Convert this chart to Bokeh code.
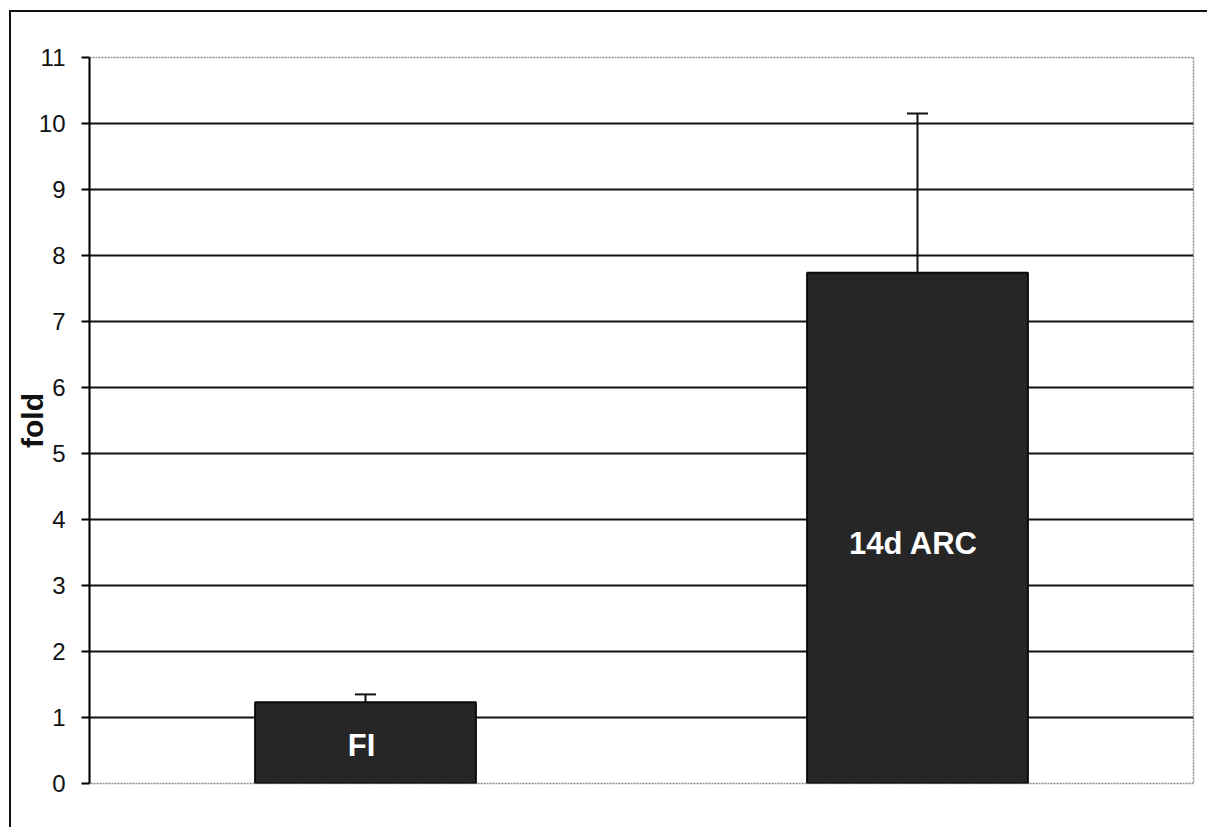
from bokeh.plotting import figure
from bokeh.models import ColumnDataSource, Range1d, FactorRange, FixedTicker, Whisker, TeeHead
from bokeh.core.properties import value
from bokeh.embed import file_html
from bokeh.resources import INLINE

categories = ["FI", "14d ARC"]
fold_mean = [1.23, 7.74]
fold_lower = [1.11, 5.24]
fold_upper = [1.35, 10.15]
y_ticks = [0, 1, 2, 3, 4, 5, 6, 7, 8, 9, 10, 11]

src = ColumnDataSource(dict(
    cat=categories,
    mean=fold_mean,
    lower=fold_lower,
    upper=fold_upper,
    label_y=[m * 0.47 for m in fold_mean],
))

p = figure(width=1198, height=817, output_backend="svg", toolbar_location=None,
           x_range=FactorRange(*categories, range_padding=0),
           y_range=Range1d(0, 11),
           min_border_left=78, min_border_right=16, min_border_top=45, min_border_bottom=46)
p.styles = {"margin-left": "9px", "margin-top": "10px",
            "border-left": "2px solid #111", "border-top": "2px solid #111"}

p.background_fill_color = "white"
p.border_fill_color = "white"
p.outline_line_color = "#8a8a8a"
p.outline_line_width = 1.5
p.outline_line_dash = "2 1"

p.xaxis.visible = False
p.xgrid.visible = False

p.yaxis.ticker = FixedTicker(ticks=y_ticks)
p.yaxis.axis_line_color = "black"
p.yaxis.axis_line_width = 2
p.yaxis.major_tick_line_color = "black"
p.yaxis.major_tick_line_width = 2
p.yaxis.major_tick_out = 8
p.yaxis.major_tick_in = 0
p.yaxis.minor_tick_line_color = None
p.yaxis.major_label_text_font = "Liberation Sans"
p.yaxis.major_label_text_font_size = "24px"
p.yaxis.major_label_text_color = "#111"
p.yaxis.major_label_standoff = 16
p.yaxis.axis_label = "fold"
p.yaxis.axis_label_text_font = "Liberation Sans"
p.yaxis.axis_label_text_font_style = "bold"
p.yaxis.axis_label_text_font_size = "30px"
p.yaxis.axis_label_text_color = "#111"
p.yaxis.axis_label_standoff = -13

p.ygrid.ticker = FixedTicker(ticks=y_ticks[1:-1])
p.ygrid.grid_line_color = "#111"
p.ygrid.grid_line_width = 2

p.vbar(x="cat", top="mean", bottom=0, width=0.4, source=src,
       fill_color="#262626", line_color="#0a0a0a", line_width=2)

w = Whisker(base="cat", upper="upper", lower="lower", source=src,
            line_color="#111", line_width=2,
            upper_head=TeeHead(size=21, line_color="#111", line_width=2),
            lower_head=TeeHead(size=21, line_color="#111", line_width=2))
p.add_layout(w)

p.text(x="cat", y="label_y", text="cat", source=src, x_offset=-4,
       text_color="white", text_font=value("Liberation Sans"), text_font_style="bold",
       text_font_size="31px", text_align="center", text_baseline="middle")

open("out.html", "w").write(file_html(p, INLINE))
